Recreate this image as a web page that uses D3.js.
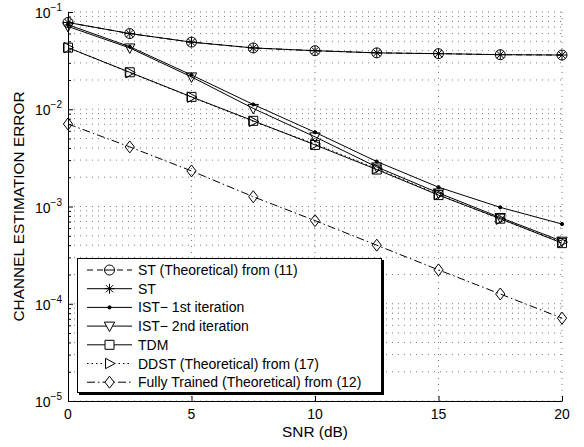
<!DOCTYPE html>
<html>
<head>
<meta charset="utf-8">
<script src="https://cdn.jsdelivr.net/npm/d3@7"></script>
<style>
	body { margin: 0; background: #fff; }
	svg { display: block; font-family: "Liberation Sans", Arial, Helvetica, sans-serif; }
</style>
</head>
<body>
<svg id="chart"></svg>
<script>
const snr = [0, 2.5, 5, 7.5, 10, 12.5, 15, 17.5, 20];

const stTheory = [0.078, 0.060, 0.049, 0.0427, 0.040, 0.038, 0.0373, 0.0364, 0.0361];
const st = [0.078, 0.060, 0.049, 0.0427, 0.040, 0.038, 0.0373, 0.0364, 0.0361];
const ist1 = [0.074, 0.044, 0.0225, 0.0112, 0.0058, 0.0029, 0.00158, 0.00098, 0.00066];
const ist2 = [0.071, 0.0427, 0.0215, 0.0102, 0.0052, 0.00255, 0.00138, 0.00077, 0.00044];
const tdm = [0.043, 0.024, 0.0134, 0.0076, 0.0043, 0.0024, 0.00131, 0.00075, 0.00042];
const ddst = [0.043, 0.0238, 0.0133, 0.0075, 0.0044, 0.00245, 0.00133, 0.00074, 0.00043];
const fullyTrained = [0.00706, 0.0041, 0.00232, 0.00126, 0.000716, 0.0004, 0.000223, 0.000126, 0.0000711];

const xTicks = [0, 5, 10, 15, 20];
const yExponents = [-5, -4, -3, -2, -1];

const legendLabels = [
	'ST (Theoretical) from (11)',
	'ST',
	'IST\u2212 1st iteration',
	'IST\u2212 2nd iteration',
	'TDM',
	'DDST (Theoretical) from (17)',
	'Fully Trained (Theoretical) from (12)',
];

const width = 584;
const height = 447;
const margin = { top: 12, right: 22, bottom: 46, left: 68 };

const svg = d3.select('#chart')
	.attr('width', width)
	.attr('height', height);

const x = d3.scaleLinear()
	.domain([0, 20])
	.range([margin.left, width - margin.right]);

const y = d3.scaleLog()
	.domain([1e-5, 1e-1])
	.range([height - margin.bottom, margin.top]);

const majorY = yExponents.map(e => Math.pow(10, e));
const minorY = [];
for (let e = -5; e < -1; e++) {
	for (let m = 2; m <= 9; m++) {
		minorY.push(m * Math.pow(10, e));
	}
}

// grid
const grid = svg.append('g')
	.attr('stroke', '#555')
	.attr('stroke-width', 0.8)
	.attr('stroke-dasharray', '1,5');

grid.selectAll('line.h')
	.data(majorY.concat(minorY))
	.enter()
	.append('line')
	.attr('x1', x(0))
	.attr('x2', x(20))
	.attr('y1', d => y(d))
	.attr('y2', d => y(d));

grid.selectAll('line.v')
	.data(xTicks.slice(1))
	.enter()
	.append('line')
	.attr('x1', d => x(d))
	.attr('x2', d => x(d))
	.attr('y1', y(1e-1))
	.attr('y2', y(1e-5));

// axes
svg.append('g')
	.attr('transform', `translate(0,${y(1e-5)})`)
	.call(d3.axisBottom(x).tickValues(xTicks).tickSizeInner(-5).tickSizeOuter(0).tickFormat(''));

const yAxisMinor = svg.append('g')
	.attr('transform', `translate(${x(0)},0)`)
	.call(d3.axisLeft(y).tickValues(minorY).tickSizeInner(-3).tickSizeOuter(0).tickFormat(''));
yAxisMinor.select('.domain').remove();

svg.append('g')
	.attr('transform', `translate(${x(0)},0)`)
	.call(d3.axisLeft(y).tickValues(majorY).tickSizeInner(-5).tickSizeOuter(0).tickFormat(''));

svg.selectAll('.domain').attr('stroke', '#000');
svg.selectAll('.tick line').attr('stroke', '#000');

svg.selectAll('text.xlbl')
	.data(xTicks)
	.enter()
	.append('text')
	.attr('class', 'xlbl')
	.attr('x', d => x(d))
	.attr('y', y(1e-5) + 18)
	.attr('text-anchor', 'middle')
	.attr('font-size', 14)
	.attr('fill', '#000')
	.text(d => d);

svg.selectAll('text.ylbl')
	.data(yExponents)
	.enter()
	.append('text')
	.attr('class', 'ylbl')
	.attr('x', x(0) - 6)
	.attr('y', d => y(Math.pow(10, d)) + 6)
	.attr('text-anchor', 'end')
	.attr('font-size', 14)
	.attr('fill', '#000')
	.each(function (d) {
		const t = d3.select(this);
		t.append('tspan').text('10');
		t.append('tspan').attr('dy', -7).attr('font-size', 10).text('\u2212' + Math.abs(d));
	});

svg.append('text')
	.attr('x', x(10))
	.attr('y', 437)
	.attr('text-anchor', 'middle')
	.attr('font-size', 15.4)
	.text('SNR (dB)');

svg.append('text')
	.attr('transform', `translate(24,${(y(1e-1) + y(1e-5)) / 2}) rotate(-90)`)
	.attr('text-anchor', 'middle')
	.attr('font-size', 15.4)
	.text('CHANNEL ESTIMATION ERROR');

// markers
function markerPath(type) {
	switch (type) {
	case 'circle':
		return 'M5,0A5,5 0 1,1 -5,0A5,5 0 1,1 5,0Z';
	case 'asterisk':
		return 'M-5,0L5,0M0,-5L0,5M-3.6,-3.6L3.6,3.6M-3.6,3.6L3.6,-3.6';
	case 'dot':
		return 'M1.6,0A1.6,1.6 0 1,1 -1.6,0A1.6,1.6 0 1,1 1.6,0Z';
	case 'triDown':
		return 'M-5.2,-4L5.2,-4L0,5.5Z';
	case 'square':
		return 'M-4.5,-4.5L4.5,-4.5L4.5,4.5L-4.5,4.5Z';
	case 'triRight':
		return 'M-4,-5.2L-4,5.2L5.5,0Z';
	case 'diamond':
		return 'M0,-6L4.6,0L0,6L-4.6,0Z';
	default:
		return '';
	}
}

const series = [
	{ values: fullyTrained, dash: '8,3,1.5,3', marker: 'diamond' },
	{ values: ddst, dash: '1.5,3', marker: 'triRight' },
	{ values: tdm, dash: null, marker: 'square' },
	{ values: ist2, dash: null, marker: 'triDown' },
	{ values: ist1, dash: null, marker: 'dot' },
	{ values: st, dash: null, marker: 'asterisk' },
	{ values: stTheory, dash: '6,4', marker: 'circle' },
];
const legendOrder = [6, 5, 4, 3, 2, 1, 0];

const line = d3.line()
	.x(d => x(d[0]))
	.y(d => y(d[1]));

series.forEach(s => {
	const pts = snr.map((v, i) => [v, s.values[i]]);
	svg.append('path')
		.datum(pts)
		.attr('fill', 'none')
		.attr('stroke', '#000')
		.attr('stroke-width', 1)
		.attr('stroke-dasharray', s.dash)
		.attr('d', line);
	svg.selectAll(null)
		.data(pts)
		.enter()
		.append('path')
		.attr('transform', d => `translate(${x(d[0])},${y(d[1])})`)
		.attr('d', markerPath(s.marker))
		.attr('fill', s.marker === 'dot' ? '#000' : 'none')
		.attr('stroke', '#000')
		.attr('stroke-width', 1);
});

// legend
const legend = svg.append('g');
legend.append('rect')
	.attr('x', 79)
	.attr('y', 260)
	.attr('width', 305)
	.attr('height', 135)
	.attr('fill', '#000');
legend.append('rect')
	.attr('x', 77.5)
	.attr('y', 258.5)
	.attr('width', 304)
	.attr('height', 134)
	.attr('fill', '#fff')
	.attr('stroke', '#000')
	.attr('stroke-width', 1);

legendOrder.forEach((si, row) => {
	const s = series[si];
	const cy = 270 + row * 18.7;
	legend.append('line')
		.attr('x1', 87)
		.attr('x2', 132)
		.attr('y1', cy)
		.attr('y2', cy)
		.attr('stroke', '#000')
		.attr('stroke-dasharray', s.dash);
	legend.append('path')
		.attr('transform', `translate(109.5,${cy})`)
		.attr('d', markerPath(s.marker))
		.attr('fill', s.marker === 'dot' ? '#000' : '#fff')
		.attr('stroke', '#000');
	if (s.marker === 'circle') {
		legend.append('line')
			.attr('x1', 104.5).attr('x2', 114.5)
			.attr('y1', cy).attr('y2', cy)
			.attr('stroke', '#000');
	}
	legend.append('text')
		.attr('x', 138)
		.attr('y', cy + 5)
		.attr('font-size', 14)
		.text(legendLabels[row]);
});
</script>
</body>
</html>
